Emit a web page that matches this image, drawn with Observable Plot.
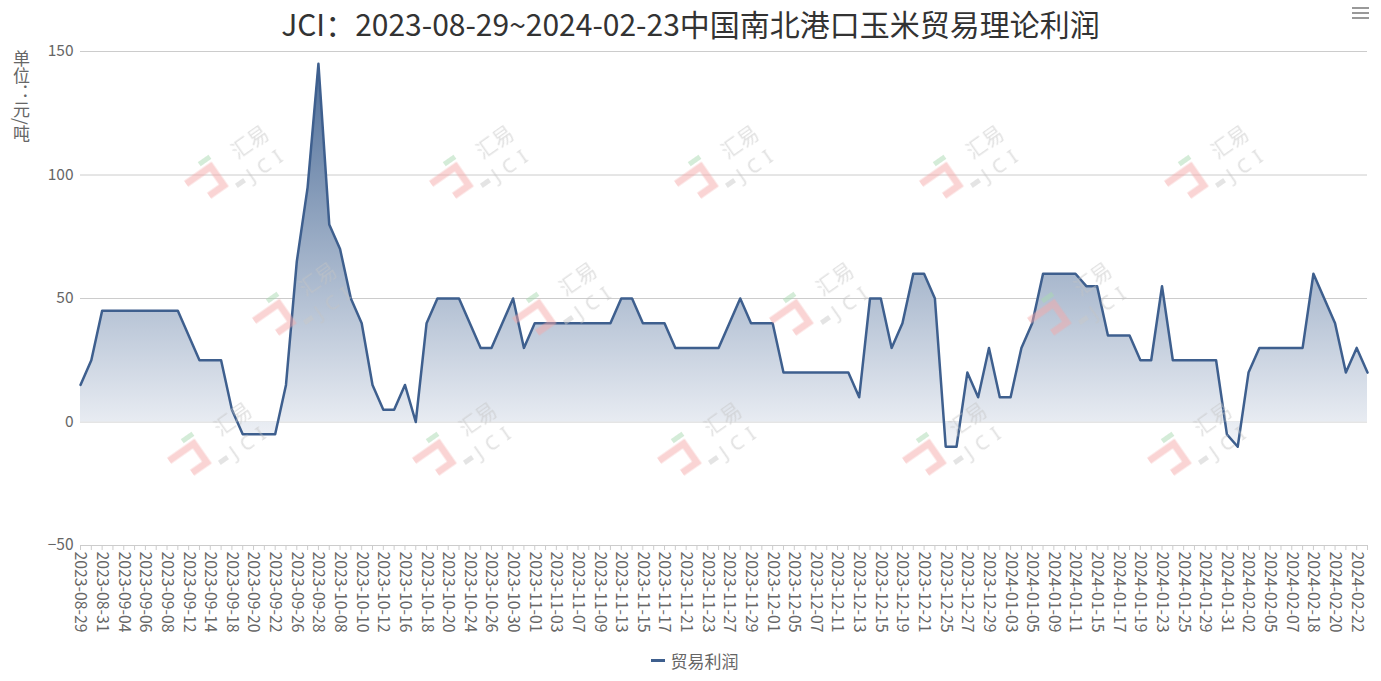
<!DOCTYPE html>
<html>
<head>
<meta charset="utf-8">
<script src="https://cdn.jsdelivr.net/npm/d3@7"></script>
<script src="https://cdn.jsdelivr.net/npm/@observablehq/plot@0.6"></script>
<style>
  body { margin: 0; background: #fff; font-family: "Noto Sans CJK SC", "Noto Sans", sans-serif; }
  #wrap { position: relative; width: 1381px; height: 681px; overflow: hidden; }
  #title { position: absolute; left: 0; top: 0; width: 1381px; height: 46px; text-align: center; font-size: 30px; line-height: 46px; color: #333; white-space: nowrap; z-index: 2; }
  #ylabel { position: absolute; left: 12px; top: 50px; writing-mode: vertical-rl; font-size: 17px; line-height: 18px; color: #666; z-index: 2; }
  #menu { position: absolute; left: 1352px; top: 7px; width: 17px; z-index: 2; }
  #menu div { height: 2px; background: #999; margin-bottom: 3px; }
  #chart { padding-top: 24px; }
  #legend { height: 41px; display: flex; justify-content: center; align-items: center; font-size: 17px; color: #666; padding-left: 8px; }
  #legend .sw { width: 14px; height: 3px; background: #3e5f8e; margin-right: 6px; }
</style>
</head>
<body>
<div id="wrap">
  <div id="title">JCI：2023-08-29~2024-02-23中国南北港口玉米贸易理论利润</div>
  <div id="ylabel">单位：元/吨</div>
  <div id="menu"><div></div><div></div><div></div></div>
  <div id="chart"></div>
  <div id="legend"><span class="sw"></span><span>贸易利润</span></div>
</div>
<script>
const dates = [
  "2023-08-29","2023-08-30","2023-08-31","2023-09-01","2023-09-04","2023-09-05","2023-09-06","2023-09-07","2023-09-08","2023-09-11",
  "2023-09-12","2023-09-13","2023-09-14","2023-09-15","2023-09-18","2023-09-19","2023-09-20","2023-09-21","2023-09-22","2023-09-25",
  "2023-09-26","2023-09-27","2023-09-28","2023-10-07","2023-10-08","2023-10-09","2023-10-10","2023-10-11","2023-10-12","2023-10-13",
  "2023-10-16","2023-10-17","2023-10-18","2023-10-19","2023-10-20","2023-10-23","2023-10-24","2023-10-25","2023-10-26","2023-10-27",
  "2023-10-30","2023-10-31","2023-11-01","2023-11-02","2023-11-03","2023-11-06","2023-11-07","2023-11-08","2023-11-09","2023-11-10",
  "2023-11-13","2023-11-14","2023-11-15","2023-11-16","2023-11-17","2023-11-20","2023-11-21","2023-11-22","2023-11-23","2023-11-24",
  "2023-11-27","2023-11-28","2023-11-29","2023-11-30","2023-12-01","2023-12-04","2023-12-05","2023-12-06","2023-12-07","2023-12-08",
  "2023-12-11","2023-12-12","2023-12-13","2023-12-14","2023-12-15","2023-12-18","2023-12-19","2023-12-20","2023-12-21","2023-12-22",
  "2023-12-25","2023-12-26","2023-12-27","2023-12-28","2023-12-29","2024-01-02","2024-01-03","2024-01-04","2024-01-05","2024-01-08",
  "2024-01-09","2024-01-10","2024-01-11","2024-01-12","2024-01-15","2024-01-16","2024-01-17","2024-01-18","2024-01-19","2024-01-22",
  "2024-01-23","2024-01-24","2024-01-25","2024-01-26","2024-01-29","2024-01-30","2024-01-31","2024-02-01","2024-02-02","2024-02-04",
  "2024-02-05","2024-02-06","2024-02-07","2024-02-08","2024-02-18","2024-02-19","2024-02-20","2024-02-21","2024-02-22","2024-02-23"
];
const profit = [
  15, 25, 45, 45, 45, 45, 45, 45, 45, 45,
  35, 25, 25, 25, 5, -5, -5, -5, -5, 15,
  65, 95, 145, 80, 70, 50, 40, 15, 5, 5,
  15, 0, 40, 50, 50, 50, 40, 30, 30, 40,
  50, 30, 40, 40, 40, 40, 40, 40, 40, 40,
  50, 50, 40, 40, 40, 30, 30, 30, 30, 30,
  40, 50, 40, 40, 40, 20, 20, 20, 20, 20,
  20, 20, 10, 50, 50, 30, 40, 60, 60, 50,
  -10, -10, 20, 10, 30, 10, 10, 30, 40, 60,
  60, 60, 60, 55, 55, 35, 35, 35, 25, 25,
  55, 25, 25, 25, 25, 25, -5, -10, 20, 30,
  30, 30, 30, 30, 60, 50, 40, 20, 30, 20
];
const yTicks = [-50, 0, 50, 100, 150];
const xTickLabels = dates.filter((d, i) => i % 2 === 0);
const seriesName = "贸易利润";

// watermark anchor points (page pixels, decoration only)
const watermarkCenters = [
  [235,163],[480,163],[725,163],[970,163],[1215,163],
  [303,300],[563,300],[820,300],[1078,300],
  [218,440],[463,440],[708,440],[953,440],[1198,440]
];

const svgTop = 24;
const data = dates.map((d, i) => ({date: d, value: profit[i]}));
const lineColor = "#3e5f8e";

const chart = Plot.plot({
  width: 1381,
  height: 616,
  marginTop: 51 - svgTop,
  marginBottom: 95,
  marginLeft: 80,
  marginRight: 14,
  style: {fontFamily: '"Noto Sans CJK SC", "Noto Sans", sans-serif', fontSize: "15px", color: "#666", background: "transparent"},
  x: {type: "point", domain: dates, padding: 0},
  y: {domain: [-50, 150]},
  marks: [
    () => {
      const ns = "http://www.w3.org/2000/svg";
      const defs = document.createElementNS(ns, "defs");
      defs.innerHTML = '<linearGradient id="areaGrad" x1="0" y1="0" x2="0" y2="1">' +
        '<stop offset="0" stop-color="#4d6d98"/>' +
        '<stop offset="1" stop-color="#f2f4f8"/></linearGradient>';
      return defs;
    },
    Plot.gridY(yTicks, {stroke: "#cccccc", strokeOpacity: 1}),
    Plot.axisY(yTicks, {tickSize: 0, tickPadding: 7, fontSize: 15.5, label: null, fill: "#666"}),
    Plot.areaY(data, {x: "date", y: "value", fill: "url(#areaGrad)"}),
    Plot.lineY(data, {x: "date", y: "value", stroke: lineColor, strokeWidth: 2.5}),
    Plot.axisX(dates, {tickSize: 5, tickFormat: () => "", stroke: "#cccccc", label: null}),
    Plot.ruleY([-50], {stroke: "#cccccc"}),
    Plot.axisX(xTickLabels, {tickSize: 0, tickPadding: 6, tickRotate: 90, fontSize: 15.8, fill: "#666", label: null}),
    () => {
      const ns = "http://www.w3.org/2000/svg";
      const g = document.createElementNS(ns, "g");
      g.setAttribute("opacity", "0.5");
      g.setAttribute("pointer-events", "none");
      let html = "";
      for (const [cx, cy0] of watermarkCenters) {
        const cy = cy0 - svgTop;
        html += `<g transform="translate(${cx},${cy}) rotate(-35)">` +
          `<path d="M-52,-11 H-22 V12 H-40" fill="none" stroke="#f4a9a9" stroke-width="7" stroke-linejoin="miter"/>` +
          `<rect x="-30" y="-22" width="13" height="5" fill="#a9d8b0"/>` +
          `<rect x="-12" y="17" width="10" height="5" fill="#c8c8c8"/>` +
          `<text x="24" y="-1" text-anchor="middle" font-size="20" fill="#c4c4c4">汇易</text>` +
          `<text x="26" y="26" text-anchor="middle" font-size="20" letter-spacing="7" fill="#c4c4c4" font-family="Noto Sans, sans-serif">JCI</text>` +
          `</g>`;
      }
      g.innerHTML = html;
      return g;
    }
  ]
});
document.getElementById("chart").appendChild(chart);
</script>
</body>
</html>
